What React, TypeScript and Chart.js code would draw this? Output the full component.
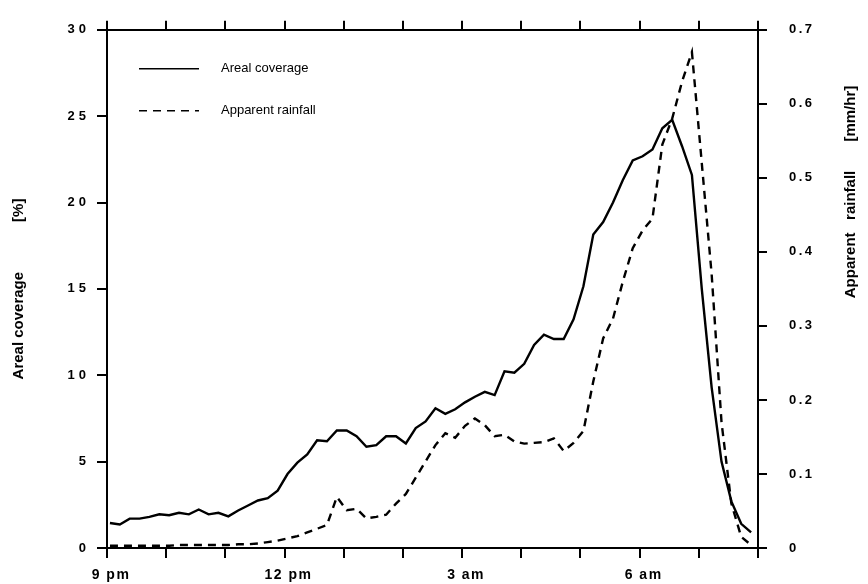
import React, { useEffect, useRef } from 'react';
import { Chart, registerables, LinearScale } from 'chart.js';

// Linear scale whose tick labels are drawn with a little letter spacing,
// imitating the widely spaced type of the printed original.
const labelSpacing: Record<string, number> = { x: 1.5, y: 4, y1: 2.5 };

class SpacedLinearScale extends (LinearScale as any) {
  static id = 'spacedLinear';
  static defaults = (LinearScale as any).defaults;
  drawLabels(chartArea: any) {
    const ctx = (this as any).ctx;
    ctx.save();
    (ctx as any).letterSpacing = (labelSpacing[(this as any).id] || 0) + 'px';
    super.drawLabels(chartArea);
    ctx.restore();
  }
}

Chart.register(...registerables, SpacedLinearScale as any);

// sample times, minutes after 9 pm
const sampleMinutes = [
  3, 13, 23, 33, 43, 53, 63, 73, 83, 93,
  103, 113, 123, 133, 143, 153, 163, 173, 183, 193,
  203, 213, 223, 233, 243, 253, 263, 273, 283, 293,
  303, 313, 323, 333, 343, 353, 363, 373, 383, 393,
  403, 413, 423, 433, 443, 453, 463, 473, 483, 493,
  503, 513, 523, 533, 543, 553, 563, 573, 583, 593,
  603, 613, 623, 633, 643, 653,
];

// Areal coverage [%]
const arealCoverage = [
  1.45, 1.36, 1.7, 1.7, 1.8, 1.95, 1.9, 2.04, 1.95, 2.23,
  1.95, 2.04, 1.83, 2.17, 2.46, 2.75, 2.88, 3.32, 4.28, 4.94,
  5.42, 6.24, 6.18, 6.8, 6.8, 6.47, 5.86, 5.95, 6.47, 6.47,
  6.05, 6.94, 7.33, 8.09, 7.77, 8.03, 8.43, 8.76, 9.04, 8.85,
  10.23, 10.15, 10.66, 11.75, 12.35, 12.1, 12.1, 13.24, 15.15, 18.15,
  18.87, 20.0, 21.3, 22.44, 22.68, 23.07, 24.3, 24.79, 23.26, 21.6,
  15.0, 9.3, 5.0, 2.7, 1.4, 0.9,
];

// Apparent rainfall [mm/hr]
const apparentRainfall = [
  0.003, 0.003, 0.003, 0.003, 0.003, 0.003, 0.003, 0.004, 0.004, 0.004,
  0.004, 0.004, 0.004, 0.005, 0.005, 0.006, 0.008, 0.01, 0.013, 0.016,
  0.021, 0.026, 0.031, 0.069, 0.051, 0.053, 0.04, 0.042, 0.045, 0.06,
  0.073, 0.095, 0.117, 0.139, 0.155, 0.149, 0.165, 0.175, 0.166, 0.151,
  0.153, 0.144, 0.141, 0.142, 0.143, 0.148, 0.131, 0.142, 0.158, 0.225,
  0.283, 0.31, 0.36, 0.405, 0.429, 0.445, 0.545, 0.58, 0.63, 0.67,
  0.52, 0.37, 0.17, 0.06, 0.015, 0.004,
];

const timeTickLabels = ['9 pm', '12 pm', '3 am', '6 am'];
const seriesNames = ['Areal coverage', 'Apparent rainfall'];
const axisTitles = [
  'Areal coverage            [%]',
  'Apparent   rainfall       [mm/hr]',
];

const FONT = '"Liberation Sans", Arial, Helvetica, sans-serif';

const overlayPlugin = {
  id: 'overlay',
  afterDraw(chart: any) {
    const ctx = chart.ctx;
    const area = chart.chartArea;
    ctx.save();
    // legend
    const lx0 = area.left + 32;
    const lx1 = area.left + 92;
    const tx = area.left + 114;
    const rows = [area.top + 39, area.top + 81];
    chart.data.datasets.forEach((ds: any, i: number) => {
      const y = rows[i];
      ctx.beginPath();
      ctx.setLineDash(ds.borderDash || []);
      ctx.lineWidth = 1.6;
      ctx.strokeStyle = '#000';
      ctx.moveTo(lx0, y);
      ctx.lineTo(lx1, y);
      ctx.stroke();
      ctx.setLineDash([]);
      ctx.fillStyle = '#000';
      ctx.font = '13px ' + FONT;
      ctx.textAlign = 'left';
      ctx.textBaseline = 'middle';
      ctx.fillText(ds.label, tx, y);
    });
    // axis titles
    ctx.fillStyle = '#000';
    ctx.font = 'bold 15px ' + FONT;
    ctx.textAlign = 'center';
    ctx.textBaseline = 'middle';
    ctx.save();
    ctx.translate(19, 289);
    ctx.rotate(-Math.PI / 2);
    ctx.fillText(axisTitles[0], 0, 0);
    ctx.restore();
    ctx.save();
    ctx.translate(851, 192);
    ctx.rotate(-Math.PI / 2);
    ctx.fillText(axisTitles[1], 0, 0);
    ctx.restore();
    ctx.restore();
  },
};

export default function App() {
  const ref = useRef<HTMLCanvasElement>(null);

  useEffect(() => {
    document.body.style.margin = '0';
    const canvas = ref.current;
    if (!canvas) return;
    const tickFont = { family: FONT, size: 13, weight: 'bold' as const };
    const xTickFont = { family: FONT, size: 14, weight: 'bold' as const };
    const grid = (len: number) => ({
      drawOnChartArea: false,
      drawTicks: true,
      tickLength: len,
      color: '#000',
      lineWidth: 2,
    });
    const border = { display: true, color: '#000', width: 2 };
    const chart = new Chart(canvas, {
      type: 'line',
      data: {
        datasets: [
          {
            label: seriesNames[0],
            data: sampleMinutes.map((m, i) => ({ x: m, y: arealCoverage[i] })),
            borderColor: '#000',
            borderWidth: 2.4,
            pointRadius: 0,
            tension: 0,
            fill: false,
            yAxisID: 'y',
          },
          {
            label: seriesNames[1],
            data: sampleMinutes.map((m, i) => ({ x: m, y: apparentRainfall[i] })),
            borderColor: '#000',
            borderWidth: 2.4,
            borderDash: [8, 6],
            pointRadius: 0,
            tension: 0,
            fill: false,
            yAxisID: 'y1',
          },
        ],
      },
      options: {
        responsive: false,
        animation: false,
        layout: { padding: 0 },
        plugins: {
          legend: { display: false },
          tooltip: { enabled: false },
          title: { display: false },
        },
        scales: {
          x: {
            type: 'spacedLinear',
            position: 'bottom',
            min: 0,
            max: 660,
            grid: grid(10),
            border,
            ticks: {
              stepSize: 60,
              autoSkip: false,
              maxRotation: 0,
              color: '#000',
              font: xTickFont,
              padding: 9,
              labelOffset: 4,
              callback: (v: any) => (Number(v) % 180 === 0 ? timeTickLabels[Number(v) / 180] : ''),
            },
            afterFit: (s: any) => { s.height = 36; },
          },
          xTop: {
            type: 'linear',
            position: 'top',
            min: 0,
            max: 660,
            grid: grid(9),
            border,
            ticks: { stepSize: 60, autoSkip: false, display: false },
            afterFit: (s: any) => { s.height = 24; },
          },
          y: {
            type: 'spacedLinear',
            position: 'left',
            min: 0,
            max: 30,
            grid: grid(10),
            border,
            ticks: { stepSize: 5, color: '#000', font: tickFont, padding: 7 },
            afterFit: (s: any) => { s.width = 107; },
          },
          y1: {
            type: 'spacedLinear',
            position: 'right',
            min: 0,
            max: 0.7,
            grid: grid(9),
            border,
            ticks: { stepSize: 0.1, color: '#000', font: tickFont, padding: 22 },
            afterFit: (s: any) => { s.width = 110; },
          },
        },
      } as any,
      plugins: [overlayPlugin],
    });
    return () => chart.destroy();
  }, []);

  return (
    <div style={{ width: 868, height: 584, background: '#fff' }}>
      <canvas ref={ref} width={868} height={584} style={{ display: 'block' }} />
    </div>
  );
}
